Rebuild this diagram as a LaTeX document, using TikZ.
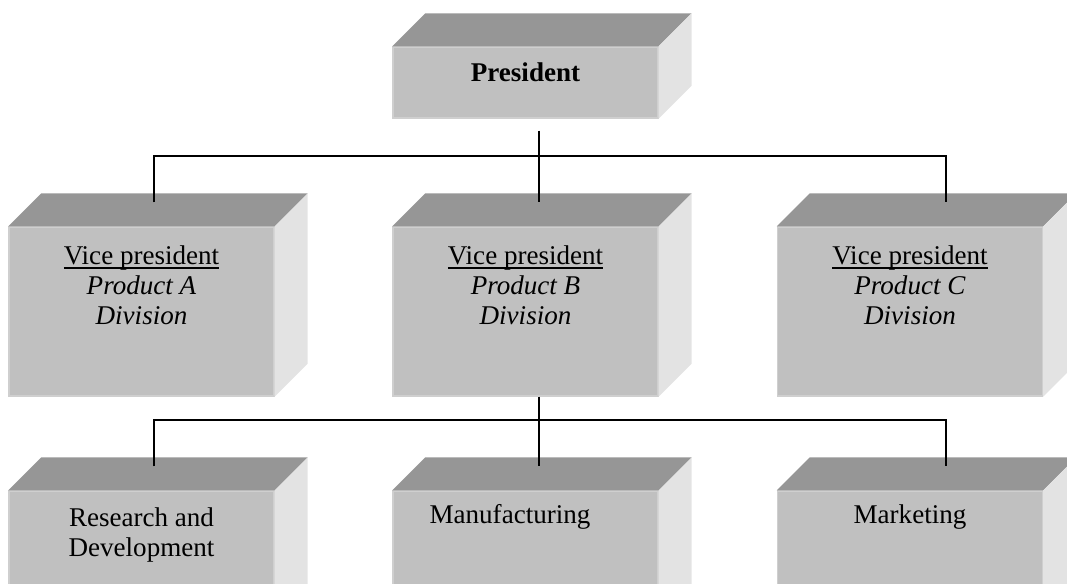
\documentclass[tikz,border=0pt]{standalone}
\usepackage{fontspec}
\setmainfont{Liberation Serif}
\usepackage{tikz}
\usetikzlibrary{calc}

\definecolor{frontgray}{HTML}{C0C0C0}
\definecolor{topgray}{HTML}{969696}
\definecolor{sidegray}{HTML}{E3E3E3}
\definecolor{edgegray}{HTML}{CFCFCF}

% underline just under the baseline
\newcommand\titleline[1]{\setbox0\hbox{#1}\rlap{\rule[-2.2pt]{\wd0}{0.8pt}}\box0}

\begin{document}
\begin{tikzpicture}[x=0.02cm,y=0.02cm,
	font=\fontsize{15.4}{17}\selectfont,
	front/.style={fill=frontgray,draw=edgegray,line width=0.8pt,minimum width=5.3cm,inner sep=0pt},
	conn/.style={line width=1.1pt}]
	\clip (0,0) rectangle (1067,583);
	% boxes
	\node[front,minimum height=1.42cm,label={[anchor=center,yshift=-0.52cm]north:\textbf{President}}] (pres) at (525.5,500.5) {};
	\node[front,minimum height=3.38cm,label={[anchor=center,align=center,yshift=-1.18cm]north:\titleline{Vice president}\\\textit{Product A}\\\textit{Division}}] (vpa) at (141.5,271.5) {};
	\node[front,minimum height=3.38cm,label={[anchor=center,align=center,yshift=-1.18cm]north:\titleline{Vice president}\\\textit{Product B}\\\textit{Division}}] (vpb) at (525.5,271.5) {};
	\node[front,minimum height=3.38cm,label={[anchor=center,align=center,yshift=-1.18cm]north:\titleline{Vice president}\\\textit{Product C}\\\textit{Division}}] (vpc) at (910,271.5) {};
	\node[front,minimum height=3.38cm,label={[anchor=center,align=center,yshift=-0.89cm]north:Research and\\Development}] (rd) at (141.5,7.5) {};
	\node[front,minimum height=3.38cm,label={[anchor=center,xshift=-0.31cm,yshift=-0.54cm]north:Manufacturing}] (man) at (525.5,7.5) {};
	\node[front,minimum height=3.38cm,label={[anchor=center,yshift=-0.54cm]north:Marketing}] (mkt) at (910,7.5) {};
	% top and side faces
	\foreach \n in {pres,vpa,vpb,vpc,rd,man,mkt}{
		\fill[topgray] (\n.north west) -- ++(33,33) -- ($(\n.north east)+(33,33)$) -- (\n.north east) -- cycle;
		\fill[sidegray] (\n.north east) -- ++(33,33) -- ($(\n.south east)+(33,33)$) -- (\n.south east) -- cycle;
	}
	% connectors
	\coordinate (bus1) at ($(pres.south)+(13.5,-37)$);
	\coordinate (bus2) at ($(vpb.south)+(13.5,-23)$);
	\coordinate (vpaT) at ($(vpa.north)+(12.5,24)$);
	\coordinate (vpcT) at ($(vpc.north)+(36,24)$);
	\coordinate (rdT) at ($(rd.north)+(12.5,24)$);
	\coordinate (mktT) at ($(mkt.north)+(36,24)$);
	\draw[conn] ($(pres.south)+(13.5,-12)$) -- ($(vpb.north)+(13.5,24)$);
	\draw[conn] (vpaT) -- (vpaT |- bus1) -- (vpcT |- bus1) -- (vpcT);
	\draw[conn] ($(vpb.south)+(13.5,0)$) -- ($(man.north)+(13.5,24)$);
	\draw[conn] (rdT) -- (rdT |- bus2) -- (mktT |- bus2) -- (mktT);
\end{tikzpicture}
\end{document}
